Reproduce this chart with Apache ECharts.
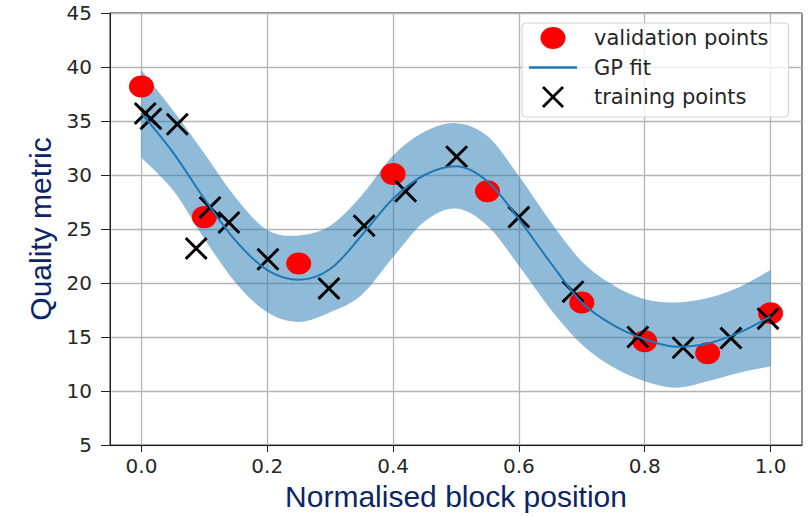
<!DOCTYPE html>
<html>
<head>
<meta charset="utf-8">
<script src="https://cdn.jsdelivr.net/npm/echarts@6/dist/echarts.min.js"></script>
<style>
  html, body { margin: 0; padding: 0; background: #fff; }
  #chart { width: 808px; height: 516px; }
</style>
</head>
<body>
<div id="chart"></div>
<script>
// GP regression of quality metric along the normalised block position

// GP posterior sampled along the block position
const fitX     = [0.00, 0.05, 0.10, 0.15, 0.20, 0.25, 0.30, 0.35, 0.40, 0.45, 0.50, 0.55, 0.60, 0.65, 0.70, 0.75, 0.80, 0.85, 0.90, 0.95, 1.00];
const fitMean  = [35.7, 32.1, 27.8, 23.9, 21.2, 20.3, 21.3, 24.4, 27.8, 30.0, 30.8, 29.4, 25.9, 21.9, 18.2, 16.1, 14.8, 14.1, 14.4, 15.4, 16.9];
const fitUpper = [39.7, 36.0, 32.0, 27.9, 24.9, 24.4, 25.3, 28.1, 31.8, 34.0, 34.8, 33.6, 29.9, 25.7, 22.0, 19.8, 18.5, 18.2, 18.6, 19.6, 21.2];
const fitLower = [31.6, 28.6, 24.1, 20.0, 17.3, 16.4, 17.3, 18.9, 22.4, 25.7, 26.9, 25.3, 21.6, 17.6, 14.3, 12.2, 10.9, 10.3, 10.9, 11.7, 12.3];

// held-out validation points
const validX = [0.00, 0.10, 0.25, 0.40, 0.55, 0.70, 0.80, 0.90, 1.00];
const validY = [38.2, 26.1, 21.8, 30.1, 28.5, 18.2, 14.6, 13.5, 17.2];

// training points
const trainX = [0.006, 0.015, 0.057, 0.087, 0.109, 0.139, 0.201, 0.298, 0.354, 0.420, 0.501, 0.600, 0.686, 0.789, 0.861, 0.937, 0.996];
const trainY = [35.7, 35.2, 34.7, 23.2, 27.0, 25.6, 22.2, 19.5, 25.3, 28.5, 31.7, 26.1, 19.2, 15.0, 14.0, 14.9, 16.7];

// axis ticks
const xTicks = [0.0, 0.2, 0.4, 0.6, 0.8, 1.0];
const yMin = 5, yMax = 45, yStep = 5;

const pairs = (xs, ys) => xs.map((x, i) => [x, ys[i]]);

// cubic (Catmull-Rom style) path through pixel points, continuing from pts[0]
function curveThrough(pts) {
  let d = '';
  for (let i = 0; i < pts.length - 1; i++) {
    const p0 = pts[i - 1] || pts[i], p1 = pts[i], p2 = pts[i + 1], p3 = pts[i + 2] || pts[i + 1];
    const c1 = [p1[0] + (p2[0] - p0[0]) / 6, p1[1] + (p2[1] - p0[1]) / 6];
    const c2 = [p2[0] - (p3[0] - p1[0]) / 6, p2[1] - (p3[1] - p1[1]) / 6];
    d += 'C' + c1.join(',') + ' ' + c2.join(',') + ' ' + p2.join(',');
  }
  return d;
}

const CROSS = 'path://M0,0.9L0.9,0L5,4.1L9.1,0L10,0.9L5.9,5L10,9.1L9.1,10L5,5.9L0.9,10L0,9.1L4.1,5Z';
const ELLIPSE = 'path://M0,11A12.5,11,0,1,1,25,11A12.5,11,0,1,1,0,11Z';
const LINEICON = 'path://M0,0L48,0L48,2.4L0,2.4Z';

const tickFont = { fontFamily: 'DejaVu Sans', fontSize: 20, color: '#262626' };
const titleFont = { fontFamily: 'Liberation Sans', fontSize: 30, color: '#0b2566' };

const chart = echarts.init(document.getElementById('chart'), null, { renderer: 'svg' });
chart.setOption({
  animation: false,
  backgroundColor: '#fff',
  grid: {
    left: 110, right: 6, top: 13, bottom: 69,
    show: true, borderColor: '#222', borderWidth: 1, backgroundColor: 'transparent'
  },
  xAxis: {
    type: 'value',
    min: -0.05, max: 1.05,
    name: 'Normalised block position',
    nameLocation: 'middle',
    nameGap: 36,
    nameTextStyle: titleFont,
    axisLine: { show: true, onZero: false, lineStyle: { color: '#222', width: 1 } },
    axisTick: { show: true, length: 7, customValues: xTicks, lineStyle: { color: '#222' } },
    axisLabel: { customValues: xTicks, margin: 11, formatter: v => v.toFixed(1), ...tickFont },
    splitLine: { show: true, lineStyle: { color: '#b4b4b4', width: 1.3 } }
  },
  yAxis: {
    type: 'value',
    min: yMin, max: yMax, interval: yStep,
    name: 'Quality metric',
    nameLocation: 'middle',
    nameGap: 52,
    nameTextStyle: titleFont,
    axisLine: { show: true, onZero: false, lineStyle: { color: '#222', width: 1 } },
    axisTick: { show: true, length: 9, lineStyle: { color: '#222' } },
    axisLabel: { margin: 18, ...tickFont },
    splitLine: { show: true, lineStyle: { color: '#b4b4b4', width: 1.3 } }
  },
  legend: {
    left: 522, top: 23,
    orient: 'vertical',
    padding: [4, 20, 9, 7],
    itemWidth: 48, itemHeight: 22, itemGap: 7.5,
    backgroundColor: 'rgba(255,255,255,0.8)',
    borderColor: '#d0d0d0', borderWidth: 1, borderRadius: 4,
    textStyle: { fontFamily: 'DejaVu Sans', fontSize: 21, lineHeight: 22, color: '#262626', padding: [0, 0, 0, 12] },
    selectedMode: false,
    data: [
      { name: 'validation points', icon: ELLIPSE },
      { name: 'GP fit', icon: LINEICON },
      { name: 'training points', icon: CROSS }
    ]
  },
  series: [
    {
      // confidence band between the upper and lower posterior bounds
      name: 'GP band', type: 'custom', silent: true,
      data: pairs(fitX, fitMean),
      renderItem: (params, api) => {
        if (params.dataIndex !== 0) return null;
        const up = fitX.map((x, i) => api.coord([x, fitUpper[i]]));
        const lo = fitX.map((x, i) => api.coord([x, fitLower[i]])).reverse();
        const d = 'M' + up[0].join(',') + curveThrough(up) +
                  'L' + lo[0].join(',') + curveThrough(lo) + 'Z';
        return { type: 'path', shape: { pathData: d }, style: { fill: 'rgba(31,119,180,0.5)' } };
      }
    },
    {
      name: 'GP fit', type: 'line', data: pairs(fitX, fitMean),
      smooth: 0.33, showSymbol: false, silent: true,
      itemStyle: { color: '#1f77b4' },
      lineStyle: { color: '#1f77b4', width: 2 }
    },
    {
      name: 'validation points', type: 'scatter', data: pairs(validX, validY),
      symbol: ELLIPSE, symbolSize: [25, 22], symbolKeepAspect: false,
      itemStyle: { color: '#ff0000', opacity: 1 }
    },
    {
      name: 'training points', type: 'scatter', data: pairs(trainX, trainY),
      symbol: CROSS, symbolSize: 23,
      itemStyle: { color: '#000000', opacity: 1 }
    }
  ]
});
</script>
</body>
</html>
